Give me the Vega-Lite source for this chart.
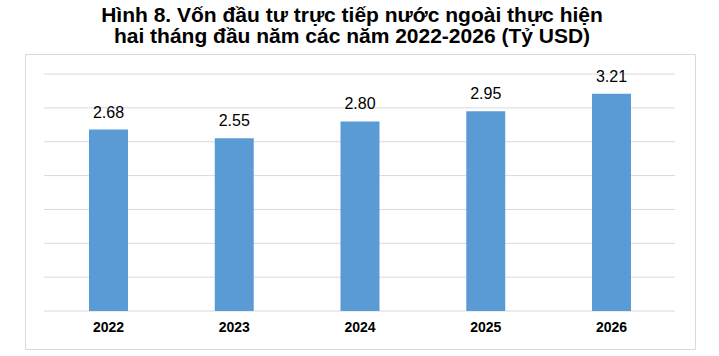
{
  "$schema": "https://vega.github.io/schema/vega-lite/v6.json",
  "autosize": "none",
  "width": 670,
  "height": 295,
  "padding": {"left": 25, "top": 54, "right": 24, "bottom": 7},
  "background": "white",
  "config": {
    "view": {"stroke": "#d9d9d9", "strokeWidth": 1},
    "font": "Liberation Sans"
  },
  "title": {
    "text": ["Hình 8. Vốn đầu tư trực tiếp nước ngoài thực hiện", "hai tháng đầu năm các năm 2022-2026 (Tỷ USD)"],
    "font": "Liberation Sans",
    "fontSize": 21,
    "fontWeight": "bold",
    "color": "#000000",
    "anchor": "middle",
    "frame": "group",
    "baseline": "bottom",
    "lineHeight": 21,
    "offset": 4,
    "dx": -8,
    "dy": 18
  },
  "datasets": {
    "fdi": [
      {"year": "2022", "value": 2.68},
      {"year": "2023", "value": 2.55},
      {"year": "2024", "value": 2.80},
      {"year": "2025", "value": 2.95},
      {"year": "2026", "value": 3.21}
    ],
    "grid": [
      {"v": 0}, {"v": 0.5}, {"v": 1}, {"v": 1.5}, {"v": 2}, {"v": 2.5}, {"v": 3}, {"v": 3.5}
    ]
  },
  "layer": [
    {
      "data": {"name": "grid"},
      "mark": {"type": "rule", "color": "#d9d9d9", "strokeWidth": 1},
      "encoding": {
        "y": {"field": "v", "type": "quantitative", "scale": {"domain": [-0.561, 3.796], "nice": false, "zero": false}, "axis": null},
        "x": {"datum": "2022", "type": "nominal", "bandPosition": -1.154},
        "x2": {"datum": "2026", "bandPosition": 2.128}
      }
    },
    {
      "data": {"name": "fdi"},
      "mark": {"type": "bar", "color": "#5b9bd5"},
      "encoding": {
        "x": {
          "field": "year", "type": "nominal", "sort": null,
          "scale": {"domain": ["2022", "2023", "2024", "2025", "2026"], "paddingInner": 0.69, "paddingOuter": 0.509},
          "axis": {
            "title": null, "domain": false, "ticks": false, "grid": false, "bandPosition": 0.5,
            "labelAngle": 0, "labelAlign": "center", "labelFont": "Liberation Sans", "labelFontSize": 14, "labelFontWeight": "bold",
            "labelColor": "#000000", "labelPadding": 16, "offset": -38
          }
        },
        "y": {"field": "value", "type": "quantitative"},
        "y2": {"datum": 0}
      }
    },
    {
      "data": {"name": "fdi"},
      "mark": {"type": "text", "font": "Liberation Sans", "fontSize": 16, "color": "#000000", "baseline": "alphabetic", "dy": -12},
      "encoding": {
        "x": {"field": "year", "type": "nominal"},
        "y": {"field": "value", "type": "quantitative"},
        "text": {"field": "value", "type": "quantitative", "format": ".2f"}
      }
    }
  ]
}
